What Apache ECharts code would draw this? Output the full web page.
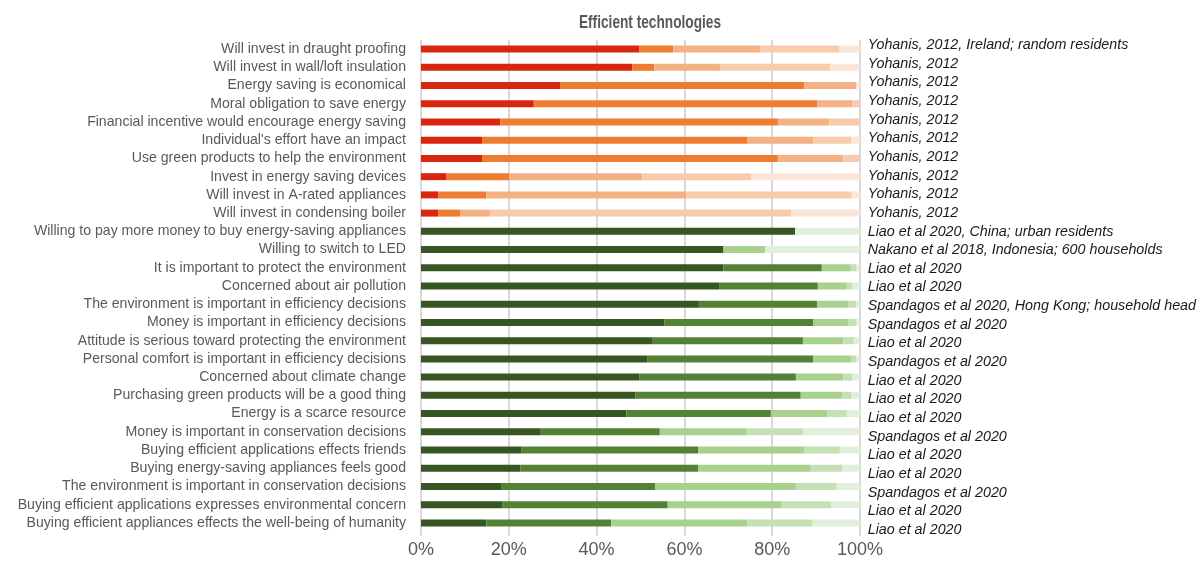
<!DOCTYPE html>
<html>
<head>
<meta charset="utf-8">
<title>Efficient technologies</title>
<script src="https://cdn.jsdelivr.net/npm/echarts@6/dist/echarts.min.js"></script>
<style>
  html, body { margin: 0; padding: 0; background: #ffffff; }
  #chart { width: 1199px; height: 565px; }
</style>
</head>
<body>
<div id="chart"></div>
<script>
// Survey statements, top to bottom
const statements = [
  'Will invest in draught proofing',
  'Will invest in wall/loft insulation',
  'Energy saving is economical',
  'Moral obligation to save energy',
  'Financial incentive would encourage energy saving',
  "Individual's effort have an impact",
  'Use green products to help the environment',
  'Invest in energy saving devices',
  'Will invest in A-rated appliances',
  'Will invest in condensing boiler',
  'Willing to pay more money to buy energy-saving appliances',
  'Willing to switch to LED',
  'It is important to protect the environment',
  'Concerned about air pollution',
  'The environment is important in efficiency decisions',
  'Money is important in efficiency decisions',
  'Attitude is serious toward protecting the environment',
  'Personal comfort is important in efficiency decisions',
  'Concerned about climate change',
  'Purchasing green products will be a good thing',
  'Energy is a scarce resource',
  'Money is important in conservation decisions',
  'Buying efficient applications effects friends',
  'Buying energy-saving appliances feels good',
  'The environment is important in conservation decisions',
  'Buying efficient applications expresses environmental concern',
  'Buying efficient appliances effects the well-being of humanity'
];

// Study each statement comes from
const sources = [
  'Yohanis, 2012, Ireland; random residents',
  'Yohanis, 2012', 'Yohanis, 2012', 'Yohanis, 2012', 'Yohanis, 2012',
  'Yohanis, 2012', 'Yohanis, 2012', 'Yohanis, 2012', 'Yohanis, 2012', 'Yohanis, 2012',
  'Liao et al 2020, China; urban residents',
  'Nakano et al 2018, Indonesia; 600 households',
  'Liao et al 2020',
  'Liao et al 2020',
  'Spandagos et al 2020, Hong Kong; household head',
  'Spandagos et al 2020',
  'Liao et al 2020',
  'Spandagos et al 2020',
  'Liao et al 2020',
  'Liao et al 2020',
  'Liao et al 2020',
  'Spandagos et al 2020',
  'Liao et al 2020',
  'Liao et al 2020',
  'Spandagos et al 2020',
  'Liao et al 2020',
  'Liao et al 2020'
];

// Colour family per row: 'o' = orange/red studies, 'g' = green studies
const family = ['o','o','o','o','o','o','o','o','o','o',
                'g','g','g','g','g','g','g','g','g','g','g','g','g','g','g','g','g'];

// Response shares (%) per agreement level, strongest first
const level1 = [49.7, 48.1, 31.8, 25.7, 18.1, 13.9, 13.9, 5.7, 3.9, 3.9,
                85.2, 68.9, 68.9, 67.9, 63.3, 55.4, 52.8, 51.5, 49.7, 48.9, 46.8, 27.3, 22.8, 22.6, 18.4, 18.6, 14.9];
const level2 = [7.8, 5.0, 55.5, 64.6, 63.2, 60.5, 67.4, 14.4, 11.0, 5.0,
                0, 0, 22.4, 22.5, 26.9, 34.0, 34.2, 37.9, 35.7, 37.6, 32.9, 27.1, 40.3, 40.5, 34.9, 37.6, 28.4];
const level3 = [19.7, 15.0, 11.8, 7.9, 11.7, 15.0, 14.9, 30.3, 45.5, 6.8,
                0, 9.5, 6.6, 6.6, 7.1, 7.9, 9.2, 8.7, 10.8, 9.5, 12.8, 19.8, 24.2, 25.7, 32.1, 25.8, 31.1];
const level4 = [18.0, 25.1, 0, 1.8, 7.0, 8.7, 3.8, 24.8, 37.7, 68.7,
                0, 0, 1.2, 1.3, 1.8, 1.8, 2.4, 1.0, 2.1, 2.1, 4.5, 12.8, 8.1, 7.2, 9.3, 11.4, 14.7];
const level5 = [4.8, 6.8, 0.9, 0, 0, 1.9, 0, 24.8, 1.9, 15.6,
                14.8, 21.6, 0.9, 1.7, 0.9, 0.9, 1.4, 0.9, 1.7, 1.9, 3.0, 13.0, 4.6, 4.0, 5.3, 6.6, 10.9];

const tickValues = [0, 20, 40, 60, 80, 100];

const palettes = {
  o: ['#d9260f', '#ed7d31', '#f4b183', '#f8cbad', '#fbe5d6'],
  g: ['#375623', '#548235', '#a9d18e', '#c5e0b4', '#e2efda']
};

const levels = [level1, level2, level3, level4, level5];

const series = levels.map((vals, li) => ({
  type: 'bar',
  stack: 'share',
  barWidth: 7,
  silent: true,
  xAxisIndex: 0,
  yAxisIndex: 0,
  data: vals.map((v, i) => ({
    value: v,
    itemStyle: { color: palettes[family[i]][li] }
  }))
}));

const chart = echarts.init(document.getElementById('chart'), null, { renderer: 'canvas' });
chart.setOption({
  animation: false,
  // condensed bold heading
  graphic: [{
    type: 'text',
    x: 650,
    y: 23,
    scaleX: 0.76,
    silent: true,
    style: {
      text: 'Efficient technologies',
      x: 0,
      y: 0,
      align: 'center',
      verticalAlign: 'middle',
      font: 'bold 18px "Liberation Sans", Arial, sans-serif',
      fill: '#595959'
    }
  }],
  grid: [
    // bars and statements
    { left: 421, right: 339, top: 40, bottom: 33, containLabel: false },
    // source notes column, set in its own slightly looser text box
    { left: 421, right: 339, top: 35.7, bottom: 25.7, containLabel: false }
  ],
  xAxis: [
    {
      type: 'value',
      gridIndex: 0,
      min: 0,
      max: 100,
      interval: 20,
      axisLine: { show: false },
      axisTick: { show: true, length: 4, lineStyle: { color: '#d9d9d9', width: 2 } },
      splitLine: { show: true, lineStyle: { color: '#d9d9d9', width: 2 } },
      axisLabel: {
        formatter: v => tickValues.includes(v) ? v + '%' : '',
        fontFamily: 'Liberation Sans, Arial, sans-serif',
        fontSize: 18,
        color: '#595959',
        margin: 9
      }
    },
    {
      type: 'value',
      gridIndex: 1,
      min: 0,
      max: 100,
      show: false
    }
  ],
  yAxis: [
    {
      type: 'category',
      gridIndex: 0,
      inverse: true,
      data: statements,
      axisLine: { show: false },
      axisTick: { show: false },
      axisLabel: {
        fontFamily: 'Liberation Sans, Arial, sans-serif',
        fontSize: 14.1,
        color: '#595959',
        margin: 15
      }
    },
    {
      type: 'category',
      gridIndex: 1,
      inverse: true,
      position: 'right',
      data: sources,
      axisLine: { show: false },
      axisTick: { show: false },
      splitLine: { show: false },
      axisLabel: {
        fontFamily: 'Liberation Sans, Arial, sans-serif',
        fontSize: 14.3,
        fontStyle: 'italic',
        color: '#1a1a1a',
        margin: 8
      }
    }
  ],
  series: series
});
</script>
</body>
</html>
